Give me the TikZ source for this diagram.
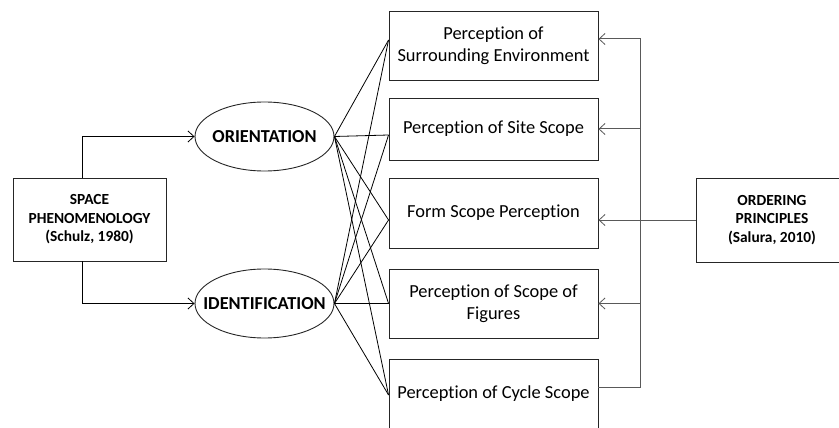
\documentclass[tikz,border=0pt]{standalone}
\usepackage{fontspec}
\setmainfont[Ligatures=NoCommon]{Carlito}
\usetikzlibrary{shapes.geometric,arrows.meta}

\tikzset{
  boxnode/.style={draw=black!85, line width=0.9pt, rectangle, inner sep=0pt, align=center},
  perc/.style={boxnode, minimum width=209pt, font=\fontsize{18.4}{22}\selectfont},
  srcbox/.style={boxnode, font=\fontsize{15.4}{18.5}\selectfont\bfseries},
  ellnode/.style={draw=black!85, line width=0.9pt, ellipse, inner sep=0pt,
    minimum width=139pt, minimum height=69pt,
    label={[font=\fontsize{18.3}{22}\selectfont\bfseries]center:#1}},
  tip/.style={-{Straight Barb[length=6pt,width=11pt,line width=0.8pt]}},
  link/.style={draw=black, line width=0.8pt},
  feed/.style={draw=black!65, line width=1pt}
}

\begin{document}
\begin{tikzpicture}[x=1pt,y=-1pt]
\useasboundingbox (0,0) rectangle (839,428);

% sources
\node[srcbox, minimum width=153pt, minimum height=83pt] (sp) at (89.5,219.5)
  {SPACE\\PHENOMENOLOGY\\(Schulz, 1980)};
\node[srcbox, minimum width=152pt, minimum height=84pt] (ord) at (772,220)
  {ORDERING\\PRINCIPLES\\(Salura, 2010)};

% the two components
\node[ellnode=ORIENTATION] (ori) at (264.5,136.5) {};
\node[ellnode=IDENTIFICATION] (ide) at (264.5,303.5) {};

% perception scopes
\node[perc, minimum height=69pt] (b1) at (493.5,45.5) {Perception of\\Surrounding Environment};
\node[perc, minimum height=62pt] (b2) at (493.5,129) {Perception of Site Scope};
\node[perc, minimum height=70pt] (b3) at (493.5,213) {Form Scope Perception};
\node[perc, minimum height=69pt] (b4) at (493.5,303.5) {Perception of Scope of\\Figures};
\node[perc, minimum height=70pt] (b5) at (493.5,394) {Perception of Cycle Scope};

% space phenomenology to its two components
\draw[link,tip] ([xshift=-7.5pt]sp.north) |- (ori.west);
\draw[link,tip] ([xshift=-7.5pt]sp.south) |- (ide.west);

% entry points on the left edges of the scope boxes
\coordinate (i1) at ([yshift=5.5pt]b1.west);
\coordinate (i2) at ([yshift=-6pt]b2.west);
\coordinate (i3) at ([yshift=-7pt]b3.west);
\coordinate (i4) at (b4.west);
\coordinate (i5) at ([yshift=-1pt]b5.west);

\foreach \t in {i1,i2,i3,i4,i5}{
  \draw[link] (ori.east) -- (\t);
  \draw[link] (ide.east) -- (\t);
}

% ordering principles feeding every scope
\coordinate (tt) at (640,39);
\draw[feed,tip] ([yshift=7pt]b5.east) -| (tt) -- ([yshift=6.5pt]b1.east);
\draw[feed,tip] (tt |- b2.east) -- (b2.east);
\draw[feed,tip] (tt |- b4.east) -- (b4.east);
\draw[feed,tip] (ord.west) -- ([yshift=-7pt]b3.east);
\end{tikzpicture}
\end{document}
